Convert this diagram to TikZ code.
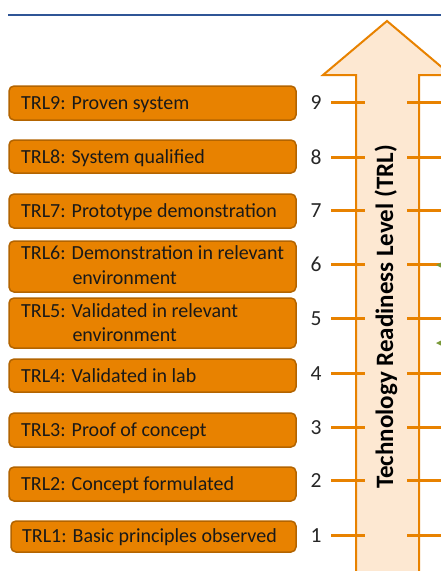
\documentclass[tikz,border=0pt]{standalone}
\usepackage{fontspec}
\setmainfont{Carlito}
\definecolor{trlorange}{HTML}{E88200}
\definecolor{trlborder}{HTML}{B36400}
\definecolor{arrowfill}{HTML}{FDE8D2}
\definecolor{topline}{HTML}{2F5596}
\definecolor{leafgreen}{HTML}{7A9A3A}
\begin{document}
\begin{tikzpicture}[x=1pt,y=-1pt,
  trlbox/.style={draw=trlborder,fill=trlorange,line width=1.5pt,rounded corners=5pt,inner sep=0pt,minimum width=287pt},
  boxtext/.style={anchor=base west,inner sep=0pt,font=\fontsize{20}{22}\selectfont,text=black!90},
  numtext/.style={anchor=base,inner sep=0pt,font=\fontsize{21.5}{24}\selectfont,text=black!85},
  tick/.style={draw=trlorange,line width=3pt},
  arrowshape/.style={draw=trlorange,fill=arrowfill,line width=2pt,line join=miter}]
\useasboundingbox (0,0) rectangle (441,571);
% top rule
\coordinate (ruleL) at (8,15);
\coordinate (ruleR) at (442,15);
\draw[topline,line width=2pt] (ruleL) -- (ruleR);
% big arrow
\draw[arrowshape] (356,580) -- (356,75) -- (323,75) -- (387,21) -- (451,75) -- (419,75) -- (419,580);
% ticks and numbers
\foreach \n/\y in {9/102,8/157,7/210,6/264,5/318,4/373,3/427,2/480,1/535}{
  \coordinate (tl\n) at (331,\y);
  \coordinate (tm\n) at (365,\y);
  \coordinate (tr\n) at (407,\y);
  \coordinate (te\n) at (443,\y);
  \draw[tick] (tl\n) -- (tm\n);
  \draw[tick] (tr\n) -- (te\n);
  \node[numtext] (num\n) at (316,\y+7.5) {\n};
}
% axis label
\node[rotate=90,anchor=base,inner sep=0pt,font=\fontsize{25}{28}\bfseries\selectfont] (axis) at (393,317) {Technology Readiness Level (TRL)};
% green partial shapes at right edge
\fill[leafgreen] (436,265) -- (443,261.5) -- (443,268.5) -- cycle;
\fill[leafgreen] (436,343) -- (443,339.5) -- (443,346.5) -- cycle;
% boxes
\node[trlbox,minimum height=34pt] (b9) at (152.5,103) {};
\node[trlbox,minimum height=33pt] (b8) at (152.5,156.5) {};
\node[trlbox,minimum height=34pt] (b7) at (152.5,211) {};
\node[trlbox,minimum height=51pt] (b6) at (152.5,266.5) {};
\node[trlbox,minimum height=50pt] (b5) at (152.5,323) {};
\node[trlbox,minimum height=33pt] (b4) at (152.5,375.5) {};
\node[trlbox,minimum height=34pt] (b3) at (152.5,430) {};
\node[trlbox,minimum height=34pt] (b2) at (152.5,484) {};
\node[trlbox,minimum height=31pt,minimum width=285pt] (b1) at (153.5,536.5) {};
% texts
\node[boxtext] (t9) at (21,109) {TRL9: Proven system};
\node[boxtext] (t8) at (21,163) {TRL8: System qualified};
\node[boxtext] (t7) at (21,217) {TRL7: Prototype demonstration};
\node[boxtext] (t6) at (21,259.3) {TRL6: Demonstration in relevant};
\node[boxtext] (t6b) at (72.3,284.3) {environment};
\node[boxtext] (t5) at (21,317.3) {TRL5: Validated in relevant};
\node[boxtext] (t5b) at (72.3,341.5) {environment};
\node[boxtext] (t4) at (21,382) {TRL4: Validated in lab};
\node[boxtext] (t3) at (21,436) {TRL3: Proof of concept};
\node[boxtext] (t2) at (21,490) {TRL2: Concept formulated};
\node[boxtext] (t1) at (22,542) {TRL1: Basic principles observed};
\end{tikzpicture}
\end{document}
